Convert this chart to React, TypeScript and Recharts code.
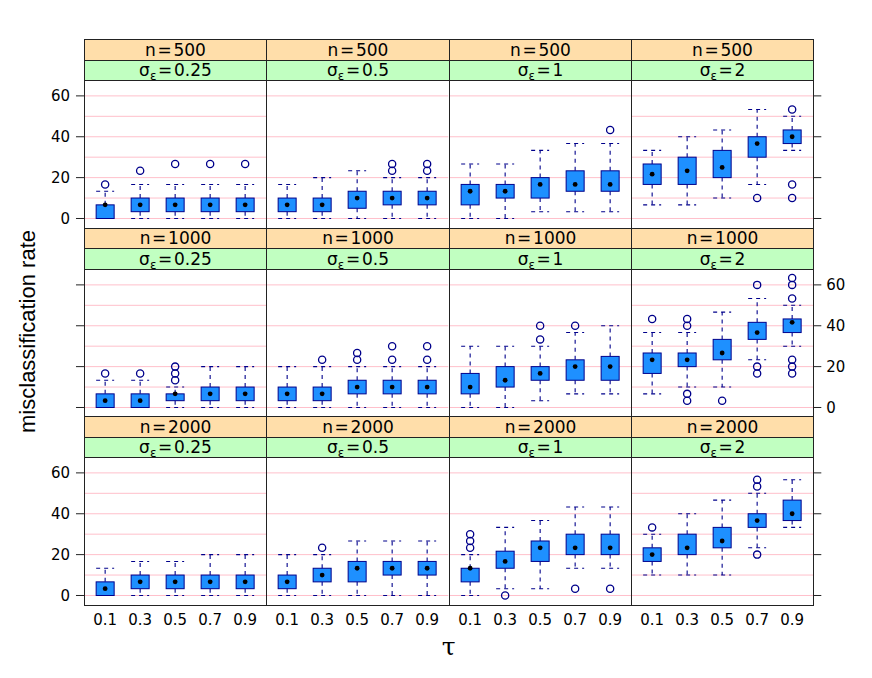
import React from 'react';
import { ComposedChart, Bar, XAxis, YAxis, CartesianGrid } from 'recharts';

// ---------- data ----------
const tauLabels = ['0.1', '0.3', '0.5', '0.7', '0.9'];
const nLabels = ['500', '1000', '2000'];
const sigmaLabels = ['0.25', '0.5', '1', '2'];
const yTicks = [0, 20, 40, 60];
const gridValues = [0, 10, 20, 30, 40, 50, 60];
const yDomain: [number, number] = [-4.43, 67.77];

// per tau: [lower whisker, Q1, median, Q3, upper whisker]
const box_n500_s025 = [[0, 0, 6.67, 6.67, 13.33], [0, 3.33, 6.67, 10, 16.67], [0, 3.33, 6.67, 10, 16.67], [0, 3.33, 6.67, 10, 16.67], [0, 3.33, 6.67, 10, 16.67]];
const out_n500_s025 = [[16.67], [23.33], [26.67], [26.67], [26.67]];
const box_n500_s05 = [[0, 3.33, 6.67, 10, 16.67], [0, 3.33, 6.67, 10, 20], [0, 5, 10, 13.33, 23.33], [0, 6.67, 10, 13.33, 20], [0, 6.67, 10, 13.33, 20]];
const out_n500_s05 = [[], [], [], [23.33, 26.67], [23.33, 26.67]];
const box_n500_s1 = [[0, 6.67, 13.33, 16.67, 26.67], [0, 10, 13.33, 16.67, 26.67], [3.33, 10, 16.67, 20, 33.33], [3.33, 13.33, 16.67, 23.33, 36.67], [3.33, 13.33, 16.67, 23.33, 36.67]];
const out_n500_s1 = [[], [], [], [], [43.33]];
const box_n500_s2 = [[6.67, 16.67, 21.67, 26.67, 33.33], [6.67, 16.67, 23.33, 30, 40], [10, 20, 25, 33.33, 43.33], [16.67, 30, 36.67, 40, 53.33], [33.33, 36.67, 40, 43.33, 50]];
const out_n500_s2 = [[], [], [], [10], [10, 16.67, 53.33]];

const box_n1000_s025 = [[0, 0, 3.33, 6.67, 13.33], [0, 0, 3.33, 6.67, 13.33], [0, 3.33, 6.67, 6.67, 10], [0, 3.33, 6.67, 10, 20], [0, 3.33, 6.67, 10, 20]];
const out_n1000_s025 = [[16.67], [16.67], [13.33, 16.67, 20], [], []];
const box_n1000_s05 = [[0, 3.33, 6.67, 10, 20], [0, 3.33, 6.67, 10, 20], [0, 6.67, 10, 13.33, 20], [0, 6.67, 10, 13.33, 20], [0, 6.67, 10, 13.33, 20]];
const out_n1000_s05 = [[], [23.33], [23.33, 26.67], [23.33, 30], [23.33, 30]];
const box_n1000_s1 = [[0, 6.67, 10, 16.67, 30], [0, 10, 13.33, 20, 30], [3.33, 13.33, 16.67, 20, 30], [6.67, 13.33, 20, 23.33, 36.67], [6.67, 13.33, 20, 25, 40]];
const out_n1000_s1 = [[], [], [33.33, 40], [40], []];
const box_n1000_s2 = [[6.67, 16.67, 23.33, 26.67, 36.67], [10, 20, 23.33, 26.67, 36.67], [10, 23.33, 26.67, 33.33, 46.67], [23.33, 33.33, 36.67, 41.67, 53.33], [30, 36.67, 41.67, 43.33, 50]];
const out_n1000_s2 = [[43.33], [3.33, 6.67, 40, 43.33], [3.33], [16.67, 20, 60], [16.67, 20, 23.33, 53.33, 60, 63.33]];

const box_n2000_s025 = [[0, 0, 3.33, 6.67, 13.33], [0, 3.33, 6.67, 10, 16.67], [0, 3.33, 6.67, 10, 16.67], [0, 3.33, 6.67, 10, 20], [0, 3.33, 6.67, 10, 20]];
const out_n2000_s025 = [[], [], [], [], []];
const box_n2000_s05 = [[0, 3.33, 6.67, 10, 20], [0, 6.67, 10, 13.33, 20], [0, 6.67, 13.33, 16.67, 26.67], [0, 10, 13.33, 16.67, 26.67], [0, 10, 13.33, 16.67, 26.67]];
const out_n2000_s05 = [[], [23.33], [], [], []];
const box_n2000_s1 = [[0, 6.67, 13.33, 13.33, 20], [3.33, 13.33, 16.67, 21.67, 33.33], [3.33, 16.67, 23.33, 26.67, 36.67], [13.33, 20, 23.33, 30, 43.33], [13.33, 20, 23.33, 30, 43.33]];
const out_n2000_s1 = [[23.33, 26.67, 30], [0], [], [3.33], [3.33]];
const box_n2000_s2 = [[10, 16.67, 20, 23.33, 30], [10, 20, 23.33, 30, 40], [10, 23.33, 26.67, 33.33, 46.67], [23.33, 33.33, 36.67, 40, 50], [33.33, 36.67, 40, 46.67, 56.67]];
const out_n2000_s2 = [[33.33], [], [], [20, 53.33, 56.67], []];

const boxRows = [
  [box_n500_s025, box_n500_s05, box_n500_s1, box_n500_s2],
  [box_n1000_s025, box_n1000_s05, box_n1000_s1, box_n1000_s2],
  [box_n2000_s025, box_n2000_s05, box_n2000_s1, box_n2000_s2],
];
const outRows = [
  [out_n500_s025, out_n500_s05, out_n500_s1, out_n500_s2],
  [out_n1000_s025, out_n1000_s05, out_n1000_s1, out_n1000_s2],
  [out_n2000_s025, out_n2000_s05, out_n2000_s1, out_n2000_s2],
];

// ---------- style ----------
const FONT = 'DejaVu Sans, Arial, sans-serif';
const BOX_FILL = '#1E90FF';
const DARK = '#00008B';
const BORDER = '#222222';
const STRIP1 = '#FFDEAA';
const STRIP2 = '#C1FFC1';
const GRID = '#FFC0CB';

const LEFT0 = 84;
const PANEL_W = 182.3;
const TOP0 = 39.3;
const ROW_H = 188.55;
const STRIP_H = 20.5;
const PANEL_H = ROW_H - 2 * STRIP_H;
const HALF_BOX = 9;

function panelData(stats: number[][], outs: number[][]) {
  return tauLabels.map((t, i) => {
    const all = [...stats[i], ...outs[i]];
    return { tau: t, stats: stats[i], out: outs[i], span: [Math.min(...all), Math.max(...all)] };
  });
}

const BoxShape = (props: any) => {
  const { x, y, width, height, payload } = props;
  if (!payload || !payload.stats) return null;
  const [vMin, vMax] = payload.span;
  const pTop = Math.min(y, y + height);
  const pBot = Math.max(y, y + height);
  const py = (v: number) => (vMax === vMin ? pTop : pBot - ((v - vMin) / (vMax - vMin)) * (pBot - pTop));
  const cx = x + width / 2;
  const [lo, q1, med, q3, hi] = payload.stats;
  const dash = '4 4';
  return (
    <g>
      <line x1={cx} x2={cx} y1={py(q3)} y2={py(hi)} stroke={DARK} strokeWidth={1.1} strokeDasharray={dash} />
      <line x1={cx} x2={cx} y1={py(q1)} y2={py(lo)} stroke={DARK} strokeWidth={1.1} strokeDasharray={dash} />
      <line x1={cx - HALF_BOX} x2={cx + HALF_BOX} y1={py(hi)} y2={py(hi)} stroke={DARK} strokeWidth={1.1} strokeDasharray={dash} />
      <line x1={cx - HALF_BOX} x2={cx + HALF_BOX} y1={py(lo)} y2={py(lo)} stroke={DARK} strokeWidth={1.1} strokeDasharray={dash} />
      <rect x={cx - HALF_BOX} y={py(q3)} width={2 * HALF_BOX} height={Math.max(0, py(q1) - py(q3))} fill={BOX_FILL} stroke={DARK} strokeWidth={1} />
      <circle cx={cx} cy={py(med)} r={2.4} fill="#000" />
      {payload.out.map((o: number, k: number) => (
        <circle key={k} cx={cx} cy={py(o)} r={3.6} fill="none" stroke={DARK} strokeWidth={1.3} />
      ))}
    </g>
  );
};

const tickStyle = { fontSize: 15, fontFamily: FONT, fill: '#000' };

function Panel({ r, c }: { r: number; c: number }) {
  const data = panelData(boxRows[r][c], outRows[r][c]);
  const leftW = c === 0 ? LEFT0 : 0;
  const rightW = c === 3 ? 59 : 0;
  const bottomH = r === 2 ? 40 : 0;
  const plotX = LEFT0 + c * PANEL_W;
  const plotY = TOP0 + r * ROW_H + 2 * STRIP_H;
  const width = PANEL_W + leftW + rightW;
  const height = PANEL_H + bottomH;
  const showLeftLabels = c === 0 && r !== 1;
  const showRightLabels = c === 3 && r === 1;
  return (
    <div style={{ position: 'absolute', left: plotX - leftW, top: plotY, width, height }}>
      <ComposedChart width={width} height={height} data={data} margin={{ top: 0, right: 0, bottom: 0, left: 0 }}>
        <CartesianGrid vertical={false} horizontalValues={gridValues} stroke={GRID} strokeWidth={1} />
        <XAxis
          dataKey="tau"
          type="category"
          hide={r !== 2}
          height={bottomH || 1}
          padding={{ left: 3.65, right: 3.65 }}
          tickLine={false}
          axisLine={false}
          tickSize={6}
          tickMargin={4}
          tick={tickStyle}
          interval={0}
        />
        {c === 0 ? (
          <YAxis
            orientation="left"
            width={LEFT0}
            domain={yDomain}
            allowDataOverflow
            type="number"
            ticks={yTicks}
            interval={0}
            axisLine={false}
            tickLine={{ stroke: BORDER }}
            tickSize={8}
            tickMargin={6}
            tick={tickStyle}
            tickFormatter={(v: number) => (showLeftLabels ? String(v) : '')}
          />
        ) : c === 3 ? (
          <YAxis
            orientation="right"
            width={59}
            domain={yDomain}
            allowDataOverflow
            type="number"
            ticks={yTicks}
            interval={0}
            axisLine={false}
            tickLine={{ stroke: BORDER }}
            tickSize={8}
            tickMargin={5}
            tick={tickStyle}
            tickFormatter={(v: number) => (showRightLabels ? String(v) : '')}
          />
        ) : (
          <YAxis hide domain={yDomain} allowDataOverflow type="number" ticks={yTicks} />
        )}
        <Bar dataKey="span" barSize={17} shape={<BoxShape />} isAnimationActive={false} />
      </ComposedChart>
    </div>
  );
}

function Cell({ x, y, w, h, bg, children, z }: any) {
  const l = Math.round(x);
  const t = Math.round(y);
  const rr = Math.round(x + w);
  const b = Math.round(y + h);
  return (
    <div
      style={{
        position: 'absolute',
        left: l,
        top: t,
        width: rr - l + 1,
        height: b - t + 1,
        boxSizing: 'border-box',
        border: `1px solid ${BORDER}`,
        background: bg,
        zIndex: z,
        pointerEvents: 'none',
        fontFamily: FONT,
        fontSize: 17,
        lineHeight: `${b - t - 1}px`,
        textAlign: 'center',
        color: '#000',
        whiteSpace: 'nowrap',
      }}
    >
      {children}
    </div>
  );
}

export default function App() {
  const cells: React.ReactNode[] = [];
  const panels: React.ReactNode[] = [];
  for (let r = 0; r < 3; r++) {
    for (let c = 0; c < 4; c++) {
      const x = LEFT0 + c * PANEL_W;
      const y0 = TOP0 + r * ROW_H;
      cells.push(
        <Cell key={`s1-${r}-${c}`} x={x} y={y0} w={PANEL_W} h={STRIP_H} bg={STRIP1} z={2}>
          {'n\u200A=\u200A' + nLabels[r]}
        </Cell>
      );
      cells.push(
        <Cell key={`s2-${r}-${c}`} x={x} y={y0 + STRIP_H} w={PANEL_W} h={STRIP_H} bg={STRIP2} z={2}>
          <span>
            σ<span style={{ fontSize: 12, position: 'relative', top: 4 }}>ε</span>
            {'\u200A=\u200A' + sigmaLabels[c]}
          </span>
        </Cell>
      );
      cells.push(<Cell key={`p-${r}-${c}`} x={x} y={y0 + 2 * STRIP_H} w={PANEL_W} h={PANEL_H} bg="transparent" z={3} />);
      panels.push(<Panel key={`c-${r}-${c}`} r={r} c={c} />);
    }
  }
  return (
    <div style={{ position: 'absolute', left: 0, top: 0, width: 872, height: 678, background: '#fff', overflow: 'hidden' }}>
      {panels}
      {cells}
      <svg width={872} height={678} style={{ position: 'absolute', left: 0, top: 0, pointerEvents: 'none', zIndex: 4 }}>
        <text x={35} y={331.5} transform="rotate(-90 35 331.5)" textAnchor="middle" fontFamily="Liberation Sans, Arial, sans-serif" fontSize={22} fill="#000">
          misclassification rate
        </text>
        <text x={448.6} y={655} textAnchor="middle" fontFamily="DejaVu Serif, serif" fontSize={25} fill="#000">
          τ
        </text>
      </svg>
    </div>
  );
}
